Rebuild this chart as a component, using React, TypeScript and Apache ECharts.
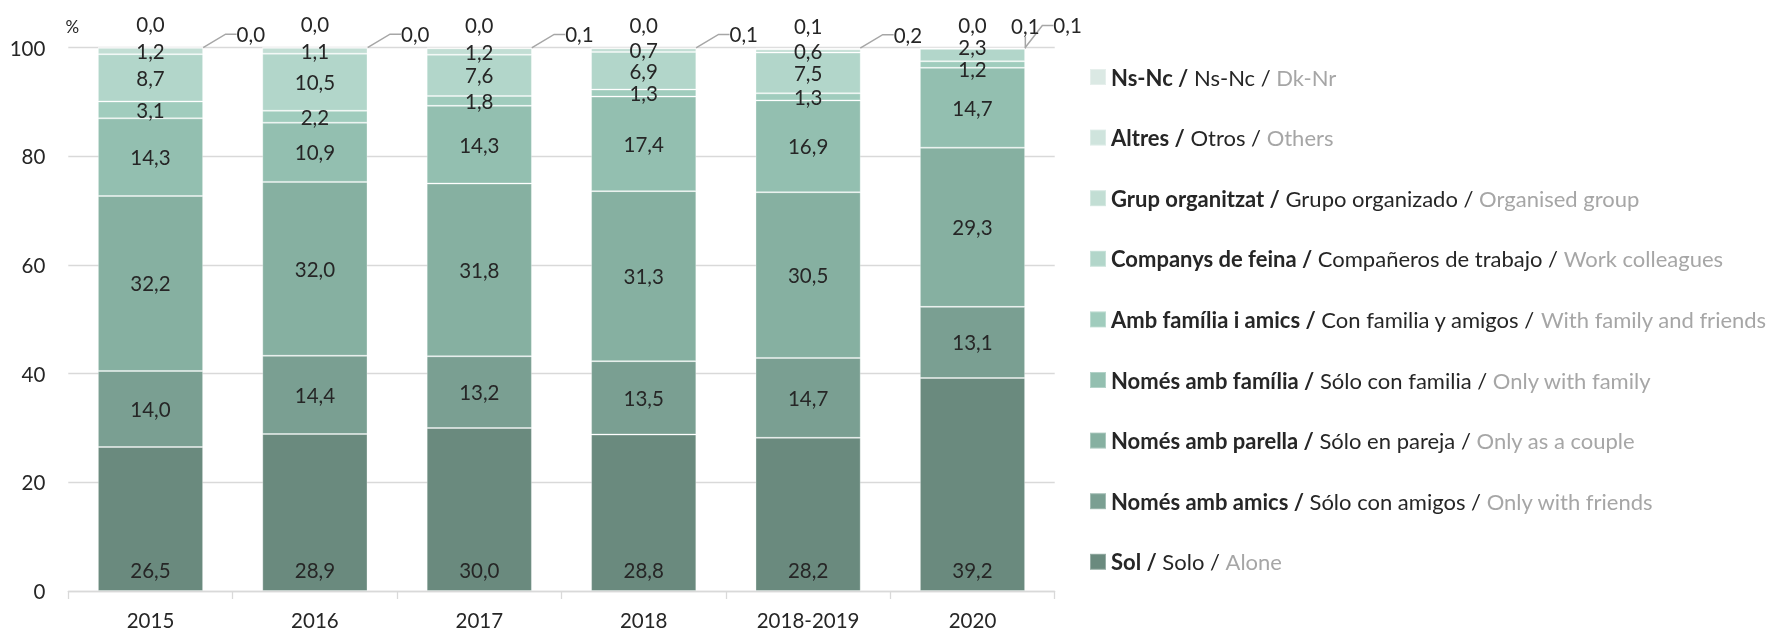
import React, { useEffect, useRef } from "react";
import * as echarts from "echarts";

const categories = ["2015", "2016", "2017", "2018", "2018-2019", "2020"];
const sol = [26.5, 28.9, 30.0, 28.8, 28.2, 39.2];
const nomesAmics = [14.0, 14.4, 13.2, 13.5, 14.7, 13.1];
const nomesParella = [32.2, 32.0, 31.8, 31.3, 30.5, 29.3];
const nomesFamilia = [14.3, 10.9, 14.3, 17.4, 16.9, 14.7];
const familiaAmics = [3.1, 2.2, 1.8, 1.3, 1.3, 1.2];
const companys = [8.7, 10.5, 7.6, 6.9, 7.5, 2.3];
const grup = [1.2, 1.1, 1.2, 0.7, 0.6, 0.0];
const altres = [0.0, 0.0, 0.0, 0.0, 0.1, 0.1];
const nsnc = [0.0, 0.0, 0.1, 0.1, 0.2, 0.1];

const seriesNames = [
  "Sol / Solo / Alone",
  "Només amb amics / Sólo con amigos / Only with friends",
  "Només amb parella / Sólo en pareja / Only as a couple",
  "Només amb família / Sólo con familia / Only with family",
  "Amb família i amics / Con familia y amigos / With family and friends",
  "Companys de feina / Compañeros de trabajo / Work colleagues",
  "Grup organitzat / Grupo organizado / Organised group",
  "Altres / Otros / Others",
  "Ns-Nc / Ns-Nc / Dk-Nr",
];
const seriesValues = [sol, nomesAmics, nomesParella, nomesFamilia, familiaAmics, companys, grup, altres, nsnc];
const colors = ["#6a8a7e", "#7a9f92", "#86b0a1", "#93bfb0", "#a0ccbd", "#b2d6ca", "#c2ded4", "#cfe4dd", "#dbe9e4"];

const FONT = "Lato, sans-serif";
const FS = 20.5;
const LFS = 22;
const TXT = "#262626";
const LEADER = "#a6a6a6";

const fmt = (v: number) => v.toFixed(1).replace(".", ",");

export default function App() {
  const ref = useRef<HTMLDivElement>(null);
  useEffect(() => {
    if (!ref.current) return;
    const chart = echarts.init(ref.current, undefined, { renderer: "svg" });

    const series = seriesValues.map((vals, s) => {
      const data = vals.map((v, i) => {
        let showLine = false;
        if (s === 8) showLine = true;
        if (s === 7 && i === 5) showLine = true;
        return { value: v, labelLine: { show: showLine } };
      });
      const labelLayout = (p: any) => {
        const r = p.rect;
        const i = p.dataIndex;
        const above = { x: r.x + r.width / 2, y: r.y - 23, align: "center", verticalAlign: "middle" };
        if (s === 4 && i === 5) return { dy: 4 };
        if (s === 5 && i === 5) return { dy: -8 };
        if (s === 6 && i === 5) return above;
        if (s === 7) {
          if (i < 5) return above;
          return { x: r.x + r.width, y: r.y - 22, align: "center", verticalAlign: "middle" };
        }
        if (s === 8) {
          if (i < 5) return { x: r.x + r.width + 33, y: r.y - 13, align: "left", verticalAlign: "middle" };
          return { x: r.x + r.width + 28, y: r.y - 22, align: "left", verticalAlign: "middle" };
        }
        return {};
      };
      return {
        name: seriesNames[s],
        type: "bar",
        stack: "total",
        barCategoryGap: "36%",
        data,
        itemStyle: { color: colors[s], borderColor: "rgba(255,255,255,0.3)", borderWidth: 1 },
        label: {
          show: true,
          position: s === 0 ? "insideBottom" : "inside",
          distance: s === 0 ? 11 : 5,
          formatter: (p: any) => fmt(p.value),
          color: TXT,
          fontFamily: FONT,
          fontSize: FS,
        },
        labelLine: {
          show: false,
          length2: 11,
          lineStyle: { color: LEADER, width: 1.5 },
        },
        labelLayout,
        emphasis: { disabled: true },
      };
    });

    const legendFormatter = (name: string) => {
      const [a, b, c] = name.split(" / ");
      return `{b|${a} /} {n|${b} /} {g|${c}}`;
    };

    chart.setOption({
      animation: false,
      textStyle: { fontFamily: FONT },
      grid: { left: 68.3, right: 723.3, top: 47.7, bottom: 41, outerBoundsMode: "none" },
      legend: {
        orient: "vertical",
        left: 1084,
        top: 61,
        itemWidth: 16,
        itemHeight: 16,
        itemGap: 38.6,
        icon: "rect",
        data: [...seriesNames].reverse(),
        formatter: legendFormatter,
        selectedMode: false,
        textStyle: {
          fontFamily: FONT,
          fontSize: LFS,
          rich: {
            b: { fontWeight: "bold", color: TXT, fontFamily: FONT, fontSize: LFS, lineHeight: 16 },
            n: { color: TXT, fontFamily: FONT, fontSize: LFS, lineHeight: 16 },
            g: { color: "#a6a6a6", fontFamily: FONT, fontSize: LFS, lineHeight: 16 },
          },
        },
      },
      xAxis: {
        type: "category",
        data: categories,
        axisLine: { lineStyle: { color: "#d9d9d9", width: 1.3 } },
        axisTick: { show: true, length: 8, lineStyle: { color: "#d9d9d9", width: 1.3 } },
        axisLabel: { color: TXT, fontFamily: FONT, fontSize: FS, margin: 18 },
      },
      yAxis: {
        type: "value",
        min: 0,
        max: 100,
        interval: 20,
        name: "%",
        nameLocation: "end",
        nameGap: 13,
        nameTextStyle: { color: TXT, fontFamily: FONT, fontSize: 17, align: "center", padding: [0, 0, 0, 8] },
        axisLine: { show: false },
        axisTick: { show: false },
        axisLabel: { color: TXT, fontFamily: FONT, fontSize: FS, margin: 23 },
        splitLine: { lineStyle: { color: "#d9d9d9", width: 1.3 } },
      },
      series,
    });
    return () => chart.dispose();
  }, []);
  return <div ref={ref} style={{ position: "fixed", left: 0, top: 0, width: 1778, height: 632 }} />;
}
